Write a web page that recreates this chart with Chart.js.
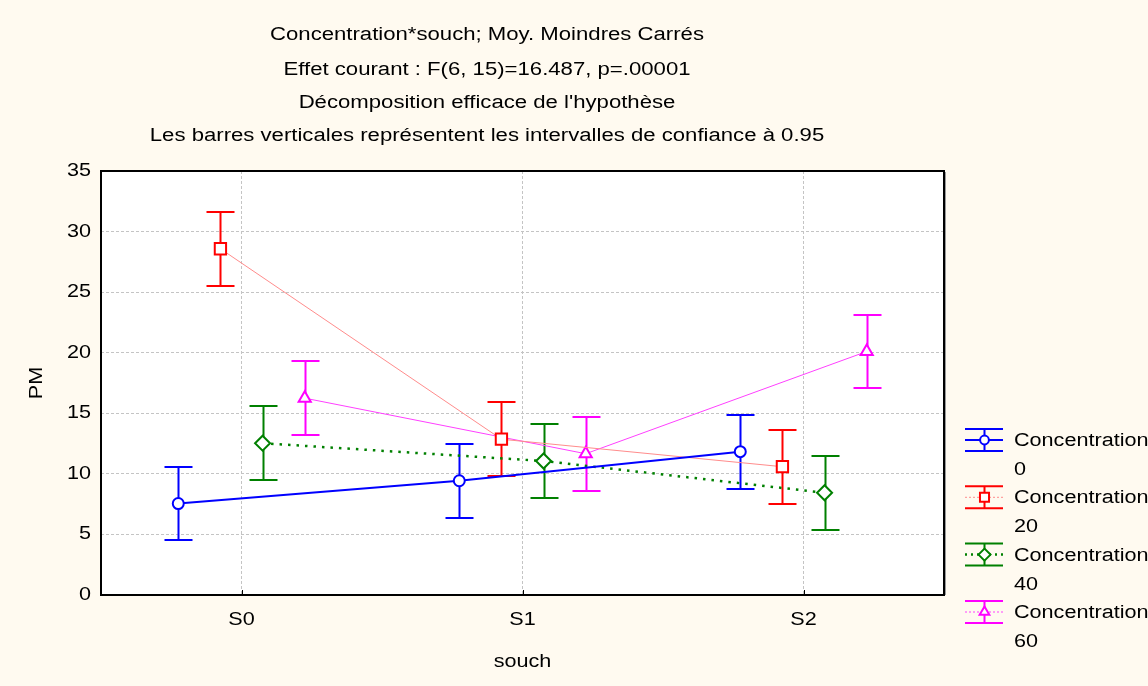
<!DOCTYPE html>
<html>
<head>
<meta charset="utf-8">
<script src="https://cdn.jsdelivr.net/npm/chart.js@4/dist/chart.umd.min.js"></script>
<style>
  html, body { margin: 0; padding: 0; background: #FFFAF0; }
  #wrap { width: 1148px; height: 686px; position: relative; }
</style>
</head>
<body>
<div id="wrap"><canvas id="c" width="1148" height="686"></canvas></div>
<script>
// ---- data ----
const categories = ['S0', 'S1', 'S2'];
const titleLines = [
  'Concentration*souch; Moy. Moindres Carrés',
  'Effet courant : F(6, 15)=16.487, p=.00001',
  "Décomposition efficace de l'hypothèse",
  'Les barres verticales représentent les intervalles de confiance à 0.95'
];
const xTitle = 'souch';
const yTitle = 'PM';
const seriesLabels = ['Concentration 0', 'Concentration 20', 'Concentration 40', 'Concentration 60'];
const conc0  = [7.55, 9.43, 11.83];
const conc20 = [28.58, 12.86, 10.59];
const conc40 = [12.53, 11.06, 8.44];
const conc60 = [16.25, 11.66, 20.10];
const ci0  = [3.05, 3.05, 3.05];
const ci20 = [3.05, 3.05, 3.05];
const ci40 = [3.05, 3.05, 3.05];
const ci60 = [3.05, 3.05, 3.05];
const yTicks = [0, 5, 10, 15, 20, 25, 30, 35];

// ---- styles ----
const FONT = '"Liberation Sans", Arial, sans-serif';
const SX = 1.2; // horizontal stretch of the reference's text
const styles = [
  { color: '#0000FF', line: '#0000FF', lw: 2, dash: [], legDash: [], point: 'circle', r: 5.5, offset: -0.225 },
  { color: '#FF0000', line: '#FF8C8C', lw: 1, dash: [], legDash: [2, 2], point: 'rect', r: 8, offset: -0.075 },
  { color: '#008000', line: '#008000', lw: 2.5, dash: [2.5, 6], legDash: [2, 4], point: 'rectRot', r: 7.5, offset: 0.075 },
  { color: '#FF00FF', line: '#FF40FF', lw: 1, dash: [], legDash: [2, 2], point: 'triangle', r: 7, offset: 0.225 }
];
const means = [conc0, conc20, conc40, conc60];
const cis = [ci0, ci20, ci40, ci60];

const datasets = means.map((m, s) => ({
  label: seriesLabels[s],
  data: m.map((v, i) => ({ x: i + styles[s].offset, y: v })),
  ci: cis[s],
  borderColor: styles[s].line,
  borderWidth: styles[s].lw,
  borderDash: styles[s].dash,
  pointStyle: styles[s].point,
  pointRadius: styles[s].r,
  pointBorderColor: styles[s].color,
  pointBackgroundColor: '#FFFFFF',
  pointBorderWidth: 2,
  pointHoverRadius: styles[s].r,
  tension: 0,
  fill: false
}));

function sText(ctx, text, x, y, align, size, rot, sx) {
  ctx.save();
  ctx.translate(x, y);
  if (rot) ctx.rotate(rot);
  ctx.scale(sx || SX, 1);
  ctx.font = size + 'px ' + FONT;
  ctx.fillStyle = '#000';
  ctx.textAlign = align;
  ctx.textBaseline = 'middle';
  ctx.fillText(text, 0, 0);
  ctx.restore();
}

const plotBg = {
  id: 'plotBg',
  beforeDraw(chart) {
    const { ctx, chartArea: a } = chart;
    ctx.save();
    ctx.fillStyle = '#FFFFFF';
    ctx.fillRect(a.left, a.top, a.right - a.left, a.bottom - a.top);
    ctx.restore();
  }
};

const errorBars = {
  id: 'errorBars',
  beforeDatasetsDraw(chart) {
    const { ctx, scales: { x, y } } = chart;
    ctx.save();
    chart.data.datasets.forEach((ds, s) => {
      ctx.strokeStyle = styles[s].color;
      ctx.lineWidth = 2;
      ds.data.forEach((p, i) => {
        const px = Math.round(x.getPixelForValue(p.x)) + 0.5;
        const yt = Math.round(y.getPixelForValue(p.y + ds.ci[i]));
        const yb = Math.round(y.getPixelForValue(p.y - ds.ci[i]));
        ctx.beginPath();
        ctx.moveTo(px, yt); ctx.lineTo(px, yb);
        ctx.moveTo(px - 14, yt); ctx.lineTo(px + 14, yt);
        ctx.moveTo(px - 14, yb); ctx.lineTo(px + 14, yb);
        ctx.stroke();
      });
    });
    ctx.restore();
  }
};

const frame = {
  id: 'frame',
  afterDraw(chart) {
    const { ctx, chartArea: a, scales: { x, y } } = chart;
    ctx.save();
    // border
    ctx.strokeStyle = '#000';
    ctx.lineWidth = 2;
    ctx.strokeRect(a.left, a.top, a.right - a.left, a.bottom - a.top);
    ctx.strokeStyle = '#9a9a9a';
    ctx.lineWidth = 1;
    ctx.beginPath();
    ctx.moveTo(a.right + 1.5, a.top + 1); ctx.lineTo(a.right + 1.5, a.bottom);
    ctx.stroke();
    // small category ticks on the x axis
    ctx.strokeStyle = '#000';
    ctx.lineWidth = 1;
    ctx.beginPath();
    categories.forEach((c, i) => {
      const px = Math.round(x.getPixelForValue(i)) + 0.5;
      ctx.moveTo(px, a.bottom - 5); ctx.lineTo(px, a.bottom);
    });
    ctx.stroke();
    // axis tick labels and titles
    yTicks.forEach(v => sText(ctx, String(v), a.left - 10, y.getPixelForValue(v), 'right', 18));
    categories.forEach((c, i) => sText(ctx, c, x.getPixelForValue(i), 620, 'center', 18));
    sText(ctx, xTitle, (a.left + a.right) / 2, 662, 'center', 18);
    sText(ctx, yTitle, 37, (a.top + a.bottom) / 2, 'center', 18, -Math.PI / 2);
    // title lines
    const ty = [35, 70, 103, 136];
    titleLines.forEach((t, i) => sText(ctx, t, 487, ty[i], 'center', 18, 0, 1.23));
    // legend
    const ly = [440, 497.3, 554.6, 612];
    chart.data.datasets.forEach((ds, s) => {
      const st = styles[s];
      const cy = ly[s];
      const x0 = 965, x1 = 1003, xc = 984;
      ctx.strokeStyle = st.color;
      ctx.lineWidth = 2;
      ctx.setLineDash([]);
      ctx.beginPath();
      ctx.moveTo(x0, cy - 11); ctx.lineTo(x1, cy - 11);
      ctx.moveTo(x0, cy + 11); ctx.lineTo(x1, cy + 11);
      ctx.moveTo(xc + 0.5, cy - 11); ctx.lineTo(xc + 0.5, cy + 11);
      ctx.stroke();
      ctx.strokeStyle = st.line;
      ctx.lineWidth = st.lw;
      ctx.setLineDash(st.legDash);
      ctx.beginPath();
      ctx.moveTo(x0, cy); ctx.lineTo(x1, cy);
      ctx.stroke();
      ctx.setLineDash([]);
      ctx.fillStyle = '#FFFFFF';
      ctx.strokeStyle = st.color;
      ctx.lineWidth = 2;
      Chart.helpers.drawPoint(ctx, { pointStyle: st.point, radius: st.r * 0.8, borderWidth: 2 }, xc + 0.5, cy);
      const parts = ds.label.split(' ');
      sText(ctx, parts[0], 1014, cy + 1, 'left', 18);
      sText(ctx, parts[1], 1014, cy + 30, 'left', 18);
    });
    ctx.restore();
  }
};

Chart.defaults.font.family = FONT;
Chart.defaults.color = '#000';

new Chart(document.getElementById('c'), {
  type: 'line',
  data: { datasets },
  options: {
    responsive: false,
    animation: false,
    events: [],
    layout: { padding: { left: 0, right: 204, top: 171, bottom: 0 } },
    plugins: { legend: { display: false }, title: { display: false }, tooltip: { enabled: false } },
    scales: {
      x: {
        type: 'linear',
        min: -0.5, max: 2.5,
        afterBuildTicks: (sc) => { sc.ticks = categories.map((c, i) => ({ value: i })); },
        afterFit: (sc) => { sc.height = 91; },
        ticks: { display: false },
        grid: { color: '#c4c4c4', lineWidth: 1, drawTicks: false },
        border: { display: false, dash: [3, 2] },
        title: { display: false, text: xTitle }
      },
      y: {
        min: 0, max: 35,
        afterBuildTicks: (sc) => { sc.ticks = yTicks.map(v => ({ value: v })); },
        afterFit: (sc) => { sc.width = 101; },
        ticks: { display: false },
        grid: { color: '#c4c4c4', lineWidth: 1, drawTicks: false },
        border: { display: false, dash: [3, 2] },
        title: { display: false, text: yTitle }
      }
    }
  },
  plugins: [plotBg, errorBars, frame]
});
</script>
</body>
</html>
